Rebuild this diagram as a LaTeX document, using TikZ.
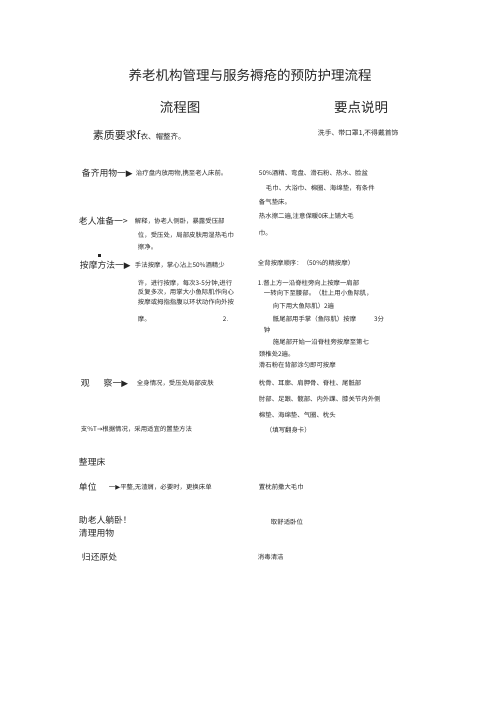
\documentclass[tikz,border=0pt]{standalone}
\usepackage{fontspec}
\setmainfont{Noto Sans CJK SC}
\newfontfamily\symfont{DejaVu Sans}
\tikzset{
  ttl/.style={font=\fontsize{13.5}{15}\selectfont, text=black!85},
  hdr/.style={font=\fontsize{13.5}{15}\selectfont, text=black!85},
  lbl/.style={font=\fontsize{8.8}{10}\selectfont, text=black!85, anchor=west},
  txt/.style={font=\fontsize{6.4}{7}\selectfont, text=black!85, anchor=west},
}
\begin{document}
\begin{tikzpicture}[x=1pt,y=1pt,yscale=-1,xscale=1]
\useasboundingbox (0,0) rectangle (500,707);

% Text Node
\draw (250,75) node [ttl] [inner sep=0.75pt] (title) {养老机构管理与服务褥疮的预防护理流程};
% Text Node
\draw (180,107) node [hdr] [inner sep=0.75pt] (liucheng) {流程图};
% Text Node
\draw (361,107) node [hdr] [inner sep=0.75pt] (yaodian) {要点说明};

% Text Node
\draw (92,135) node [lbl] [inner sep=0.75pt] (suzhi) {\fontsize{11}{12}\selectfont 素质要求f{\fontsize{7.5}{8}\selectfont 衣、帽整齐。}};
% Text Node
\draw (317,133) node [txt] [inner sep=0.75pt] (xishou) {\fontsize{6.8}{7}\selectfont 洗手、带口罩1,不得戴首饰};

% Text Node
\draw (81,173) node [lbl] [inner sep=0.75pt] (beiqi) {备齐用物一{\symfont ▶}};
% Text Node
\draw (135,173) node [txt] [inner sep=0.75pt] (zhiliao) {治疗盘内放用物,携至老人床前。};
% Text Node
\draw (258,173) node [txt] [inner sep=0.75pt] (jiujing) {50\%酒精、弯盘、滑石粉、热水、脸盆};
% Text Node
\draw (265,188) node [txt] [inner sep=0.75pt] (maojin) {毛巾、大浴巾、棉圈、海绵垫，有条件};
% Text Node
\draw (258,202) node [txt] [inner sep=0.75pt] (qidian) {备气垫床。};

% Text Node
\draw (78,221) node [lbl] [inner sep=0.75pt] (laoren) {老人准备一>};
% Text Node
\draw (134,221) node [txt] [inner sep=0.75pt] (jieshi) {解释，协老人侧卧，暴露受压部};
% Text Node
\draw (137,235) node [txt] [inner sep=0.75pt] (wei) {位，受压处，局部皮肤用湿热毛巾};
% Text Node
\draw (137,247) node [txt] [inner sep=0.75pt] (cajing) {擦净。};
% Text Node
\draw (258,216) node [txt] [inner sep=0.75pt] (reshui) {热水擦二遍,注意保暖0床上铺大毛};
% Text Node
\draw (258,233) node [txt] [inner sep=0.75pt] (jin) {巾。};

%Shape: Square
\fill [black!85] (97.5,253.5) rectangle (100.5,256.5);
% Text Node
\draw (79,265) node [lbl] [inner sep=0.75pt] (anmo) {按摩方法一{\symfont ▶}};
% Text Node
\draw (134,265) node [txt] [inner sep=0.75pt] (shoufa) {手法按摩，掌心沾上50\%酒精少};
% Text Node
\draw (137,283) node [txt] [inner sep=0.75pt] (xu) {许，进行按摩，每次3-5分钟,进行};
% Text Node
\draw (137,292) node [txt] [inner sep=0.75pt] (fanfu) {反复多次，用掌大小鱼际肌作向心};
% Text Node
\draw (137,302) node [txt] [inner sep=0.75pt] (huan) {按摩或拇指指腹以环状动作向外按};
% Text Node
\draw (137,319) node [txt] [inner sep=0.75pt] (mo) {摩。};
% Text Node
\draw (222,319) node [txt] [inner sep=0.75pt] (two) {2.};

% Text Node
\draw (257,263) node [txt] [inner sep=0.75pt] (quanbei) {全背按摩顺序：（50\%的精按摩）};
% Text Node
\draw (257,283) node [txt] [inner sep=0.75pt] (jian) {1.督上方一沿脊柱旁向上按摩一肩部};
% Text Node
\draw (263,293) node [txt] [inner sep=0.75pt] (yao) {一转向下至腰部。（肚上用小鱼际肌，};
% Text Node
\draw (272,306) node [txt] [inner sep=0.75pt] (daji) {向下用大鱼际肌）2遍};
% Text Node
\draw (272,319) node [txt] [inner sep=0.75pt] (diwei) {骶尾部用手掌（鱼际肌）按摩\hspace{18pt}3分};
% Text Node
\draw (263,330) node [txt] [inner sep=0.75pt] (zhong) {钟};
% Text Node
\draw (272,342) node [txt] [inner sep=0.75pt] (shiwei) {施尾部开始一沿脊柱旁按摩至第七};
% Text Node
\draw (258,354) node [txt] [inner sep=0.75pt] (jingzhui) {颈椎处2遍。};
% Text Node
\draw (258,365) node [txt] [inner sep=0.75pt] (huashi) {滑石粉在背部涂匀即可按摩};

% Text Node
\draw (80,383) node [lbl] [inner sep=0.75pt] (guancha) {观\hspace{14pt}察一{\symfont ▶}};
% Text Node
\draw (136,383) node [txt] [inner sep=0.75pt] (quanshen) {全身情况，受压处局部皮肤};
% Text Node
\draw (258,383) node [txt] [inner sep=0.75pt] (zhengu) {枕骨、耳廓、肩胛骨、脊柱、尾骶部};
% Text Node
\draw (258,399) node [txt] [inner sep=0.75pt] (zhoubu) {肘部、足跟、髋部、内外踝、膝关节内外侧};
% Text Node
\draw (258,415) node [txt] [inner sep=0.75pt] (miandian) {棉垫、海绵垫、气圈、枕头};
% Text Node
\draw (80,429) node [txt] [inner sep=0.75pt] (zhidian) {支\%T{\symfont →}根据情况，采用适宜的置垫方法};
% Text Node
\draw (265,430) node [txt] [inner sep=0.75pt] (fanshen) {（填写翻身卡）};

% Text Node
\draw (78,462) node [lbl] [inner sep=0.75pt] (zhengli) {整理床};
% Text Node
\draw (78,487) node [lbl] [inner sep=0.75pt] (danwei) {单位};
% Text Node
\draw (108,487) node [txt] [inner sep=0.75pt] (pingzheng) {一{\symfont ▶}平整,无渣屑，必要时，更换床单};
% Text Node
\draw (258,487) node [txt] [inner sep=0.75pt] (zhizhen) {置枕前撒大毛巾};
% Text Node
\draw (78,520) node [lbl] [inner sep=0.75pt] (tangwo) {助老人躺卧！};
% Text Node
\draw (78,533) node [lbl] [inner sep=0.75pt] (qingli) {清理用物};
% Text Node
\draw (270,522) node [txt] [inner sep=0.75pt] (shushi) {取舒适卧位};
% Text Node
\draw (81,557) node [lbl] [inner sep=0.75pt] (guihuan) {归还原处};
% Text Node
\draw (257,557) node [txt] [inner sep=0.75pt] (xiaodu) {消毒清洁};
\end{tikzpicture}
\end{document}
